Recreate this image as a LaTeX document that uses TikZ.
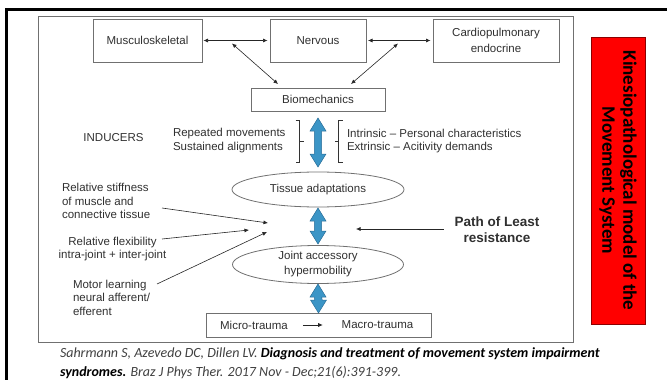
\documentclass[tikz,border=0pt]{standalone}
\usepackage{fontspec}
\setmainfont{Liberation Sans}
\newfontfamily\capfont{Carlito}
\usetikzlibrary{arrows.meta,calc,shapes.geometric}
\definecolor{boxgray}{HTML}{707070}
\definecolor{txtgray}{HTML}{303030}
\definecolor{arrowblue}{HTML}{3B95C6}
\definecolor{arrowedge}{HTML}{2B6F99}
\definecolor{titlered}{HTML}{FF0000}

% double-headed block arrow between two tip coordinates (top tip, bottom tip)
\newcommand\blockarrow[2]{%
  \filldraw[bluearrow] (#1) -- ($(#1)+(8,13)$) -- ($(#1)+(3.7,13)$)
    -- ($(#2)+(3.7,-13)$) -- ($(#2)+(8,-13)$) -- (#2)
    -- ($(#2)+(-8,-13)$) -- ($(#2)+(-3.7,-13)$)
    -- ($(#1)+(-3.7,13)$) -- ($(#1)+(-8,13)$) -- cycle;}

\begin{document}
\begin{tikzpicture}[x=1pt,y=-1pt,
  every node/.style={inner sep=0pt, outer sep=0pt, text=txtgray},
  lbl/.style={font=\fontsize{11.5}{13.5}\selectfont},
  sysbox/.style={lbl, draw=boxgray, line width=0.8pt, fill=white, align=center},
  oval/.style={lbl, ellipse, draw=boxgray, line width=0.8pt, align=center},
  thinboth/.style={draw=black!85, line width=0.6pt,
    {Latex[length=4.5pt,width=4pt]}-{Latex[length=4.5pt,width=4pt]}},
  thinone/.style={draw=black!85, line width=0.6pt, -{Latex[length=4.5pt,width=4pt]}},
  bluearrow/.style={fill=arrowblue, draw=arrowedge, line width=0.5pt, line join=miter},
  bracket/.style={draw=black!80, line width=0.7pt},
]
\useasboundingbox (0,0) rectangle (667,380);

% slide border and figure frame
\draw[line width=3pt] (6.5,380) -- (6.5,9.5) -- (667,9.5);
\draw[boxgray, line width=0.8pt] (38,16) rectangle (573,342);

% system boxes
\node[sysbox, minimum width=109pt, minimum height=43pt] (musc) at (147.5,40.5) {Musculoskeletal};
\node[sysbox, minimum width=96pt, minimum height=43pt] (nerv) at (318,40.5) {Nervous};
\node[sysbox, minimum width=126pt, minimum height=43pt, font=\fontsize{11.5}{16}\selectfont] (card) at (496,40.5) {Cardiopulmonary\\endocrine};
\node[sysbox, minimum width=134pt, minimum height=23pt] (bio) at (318,99.5) {Biomechanics};

% links between the systems
\draw[thinboth, shorten <=1.5pt, shorten >=2.5pt] (musc.east) -- (nerv.west);
\draw[thinboth, shorten <=2pt, shorten >=2.5pt] (nerv.east) -- (card.west);
\coordinate (dlt) at (232,43.5);
\coordinate (dlb) at ($(bio.north west)+(27,-4)$);
\coordinate (drt) at (398,43.5);
\coordinate (drb) at ($(bio.north west)+(100,-4)$);
\draw[thinboth] (dlt) -- (dlb);
\draw[thinboth] (drt) -- (drb);

% inducers
\node[lbl] (ind) at (113.5,138) {INDUCERS};
\node[lbl, anchor=west, align=left] (rep) at (173,140.5) {Repeated movements\\Sustained alignments};
\node[lbl, anchor=west, align=left] (intr) at (347,141) {Intrinsic -- Personal characteristics\\Extrinsic -- Acitivity demands};
\draw[bracket] (295.5,120) -- (299.5,120) -- (299.5,162) -- (295.5,162)
  (299.5,141) -- (303.5,141);
\draw[bracket] (342.5,120) -- (338.5,120) -- (338.5,162) -- (342.5,162)
  (338.5,141) -- (334.5,141);

% tissue chain
\node[oval, minimum width=172pt, minimum height=35pt] (tis) at (318,189.5) {Tissue adaptations};
\node[oval, minimum width=171pt, minimum height=38pt, font=\fontsize{11.5}{15}\selectfont] (joint) at (318,264.5) {Joint accessory\\hypermobility};
\node[draw=boxgray, line width=0.8pt, minimum width=225pt, minimum height=24pt] (trauma) at (318.5,325) {};
\node[lbl] (micro) at (254,325) {Micro-trauma};
\node[lbl] (macro) at (377.5,325) {Macro-trauma};
\draw[thinone, shorten <=15pt, shorten >=19pt] (micro.east) -- (macro.west);

\coordinate (b1t) at ($(bio.south)+(0,7)$);
\coordinate (b1b) at ($(tis.north)+(0,-5)$);
\coordinate (b2t) at ($(tis.south)+(0,1)$);
\coordinate (b2b) at ($(joint.north)+(0,-1.5)$);
\coordinate (b3t) at ($(joint.south)+(0,0.5)$);
\coordinate (b3b) at (trauma.north);
\blockarrow{b1t}{b1b}
\blockarrow{b2t}{b2b}
\blockarrow{b3t}{b3b}

% contributing factors
\node[lbl, anchor=west, align=left] (stiff) at (62,201) {Relative stiffness\\of muscle and\\connective tissue};
\node[lbl, align=center] (flex) at (112.5,249) {Relative flexibility\\intra-joint + inter-joint};
\node[lbl, anchor=west, align=left] (motor) at (73,297.5) {Motor learning\\neural afferent/\\efferent};
\coordinate (s1) at (162,208);   \coordinate (e1) at (268,223);
\coordinate (s2) at (162,239);   \coordinate (e2) at (249,230);
\coordinate (s3) at (157,284);   \coordinate (e3) at (267,232);
\draw[thinone] (s1) -- (e1);
\draw[thinone] (s2) -- (e2);
\draw[thinone] (s3) -- (e3);

% path of least resistance
\node[font=\bfseries\fontsize{13.5}{16}\selectfont, align=center] (path) at (497,230) {Path of Least\\resistance};
\coordinate (ps) at ($(path.west)+(-11,-1)$);
\coordinate (pe) at (356,229);
\draw[thinone] (ps) -- (pe);

% title bar
\node[draw=red!55!black, fill=titlered, line width=0.6pt, rotate=-90,
  minimum width=287pt, minimum height=54pt, align=center, text=black,
  font=\capfont\bfseries\fontsize{19}{21}\selectfont] (title) at (618,180.5)
  {Kinesiopathological model of the\\Movement System};

% reference
\node[anchor=west, align=left, text=black!75,
  font=\capfont\itshape\fontsize{14}{19}\selectfont] (cite) at (60,363.5)
  {Sahrmann S, Azevedo DC, Dillen LV. {\bfseries\color{black}Diagnosis and treatment of movement system impairment}\\
   {\bfseries\color{black}syndromes.} Braz J Phys Ther. 2017 Nov - Dec;21(6):391-399.};
\end{tikzpicture}
\end{document}
